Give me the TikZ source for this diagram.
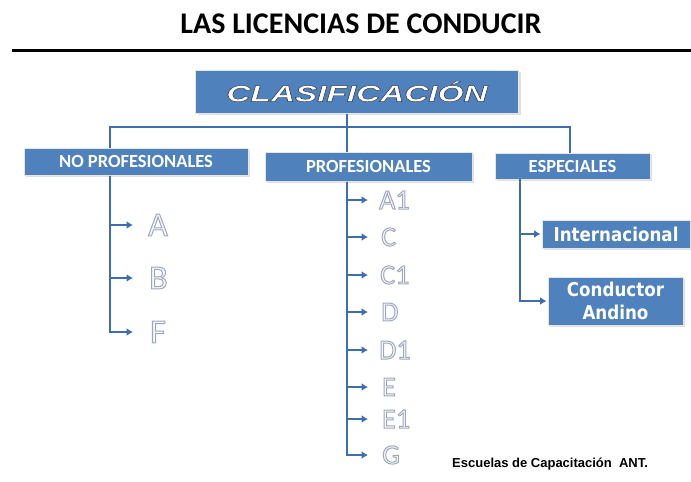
\documentclass[tikz,border=0pt]{standalone}
\usepackage{fontspec}
\usepackage{graphicx}
\setmainfont{Carlito}
\newfontfamily\arialfont{Liberation Sans}
\newfontfamily\tahomafont{DejaVu Sans}[FakeStretch=0.88]
\usetikzlibrary{arrows.meta,shadows}
\definecolor{boxblue}{RGB}{79,129,189}
\definecolor{lineblue}{RGB}{62,110,178}
\definecolor{letterfill}{RGB}{246,247,250}
% outlined letters: fill plus stroke (text render mode 2)
\newcommand{\hollow}[1]{\textcolor{letterfill}{\special{pdf:literal direct q 0.62 0.66 0.74 RG 1 w 2 Tr}#1\special{pdf:literal direct Q}}}
\newcommand{\inked}[1]{\textcolor{white}{\special{pdf:literal direct q 0.22 0.24 0.28 RG 0.45 w 2 Tr}#1\special{pdf:literal direct Q}}}

\begin{document}
\begin{tikzpicture}[
  x=1pt, y=-1pt,
  >={Latex[length=6.5pt,width=8pt]},
  every node/.style={inner sep=0pt},
  catbox/.style={rectangle, fill=boxblue, draw=white!80!gray, line width=1pt, text=white,
    font=\bfseries\fontsize{18.5}{20}\selectfont,
    drop shadow={shadow xshift=2pt, shadow yshift=-2pt, opacity=0.25}},
  leaf/.style={anchor=west, font=\fontsize{28}{30}\selectfont},
  bigleaf/.style={leaf, font=\fontsize{34}{36}\selectfont},
  link/.style={draw=lineblue, line width=2.8pt},
  linkarrow/.style={link, ->},
]
\useasboundingbox (0,0) rectangle (691,482);

% ---- heading ----
\node[font=\bfseries\fontsize{30}{32}\selectfont, anchor=base] (title) at (361,33) {LAS LICENCIAS DE CONDUCIR};
\coordinate (ruleL) at (12,50);
\coordinate (ruleR) at (691,50);
\draw[line width=3pt] (ruleL) -- (ruleR);

% ---- level 0: root ----
\node[catbox, minimum width=323pt, minimum height=43pt] (root) at (357,91.5)
  {\scalebox{1.45}[1]{\inked{\arialfont\bfseries\itshape\fontsize{23}{24}\selectfont CLASIFICACIÓN}}};

% ---- level 1 ----
\node[catbox, minimum width=224pt, minimum height=27pt] (nopro) at (136,161.5) {NO PROFESIONALES};
\node[catbox, minimum width=207pt, minimum height=29pt] (pro)   at (368.5,166.5) {PROFESIONALES};
\node[catbox, minimum width=155pt, minimum height=26pt] (espe)  at (572.5,166) {ESPECIALES};

% ---- level 2: no profesionales ----
\node[bigleaf] (lA) at (148,225) {\hollow{A}};
\node[bigleaf] (lB) at (149,278) {\hollow{B}};
\node[bigleaf] (lF) at (150,332) {\hollow{F}};

% ---- level 2: profesionales ----
\node[leaf] (lA1) at (379,200) {\hollow{A1}};
\node[leaf] (lC)  at (381,237) {\hollow{C}};
\node[leaf] (lC1) at (380,275) {\hollow{C1}};
\node[leaf] (lD)  at (381,312) {\hollow{D}};
\node[leaf] (lD1) at (379,350) {\hollow{D1}};
\node[leaf] (lE)  at (382,387) {\hollow{E}};
\node[leaf] (lE1) at (382,419) {\hollow{E1}};
\node[leaf] (lG)  at (382,455) {\hollow{G}};

% ---- level 2: especiales ----
\node[catbox, font=\tahomafont\bfseries\fontsize{19}{20}\selectfont, minimum width=148pt, minimum height=28pt] (intl) at (616,234) {Internacional};
\node[catbox, font=\tahomafont\bfseries\fontsize{19}{23}\selectfont, align=center, minimum width=135pt, minimum height=48pt] (andino) at (615.5,301) {Conductor\\Andino};

% ---- bus under the root ----
\coordinate (busL) at (110,127);
\coordinate (busM) at (347,127);
\coordinate (busR) at (570,127);
\coordinate (espTrunk) at (520,179);
\draw[link] (root.south -| busM) -- (busM);
\draw[link] (busL |- nopro.north) -- (busL) -- (busR) -- (busR |- espe.north);
\draw[link] (busM) -- (busM |- pro.north);

% ---- edges to the licence types ----
\draw[linkarrow, shorten >=15pt] (nopro.south -| busL) |- (lA.west);
\draw[linkarrow, shorten >=16pt] (nopro.south -| busL) |- (lB.west);
\draw[linkarrow, shorten >=17pt] (nopro.south -| busL) |- (lF.west);

\draw[linkarrow, shorten >=11pt] (pro.south -| busM) |- (lA1.west);
\draw[linkarrow, shorten >=13pt] (pro.south -| busM) |- (lC.west);
\draw[linkarrow, shorten >=12pt] (pro.south -| busM) |- (lC1.west);
\draw[linkarrow, shorten >=13pt] (pro.south -| busM) |- (lD.west);
\draw[linkarrow, shorten >=11pt] (pro.south -| busM) |- (lD1.west);
\draw[linkarrow, shorten >=14pt] (pro.south -| busM) |- (lE.west);
\draw[linkarrow, shorten >=14pt] (pro.south -| busM) |- (lE1.west);
\draw[linkarrow, shorten >=14pt] (pro.south -| busM) |- (lG.west);

\draw[linkarrow, shorten >=1pt] (espTrunk) |- (intl.west);
\draw[linkarrow, shorten >=1pt] (espTrunk) |- (andino.west);

% ---- credit ----
\node[font=\arialfont\bfseries\fontsize{13}{14}\selectfont, anchor=west] (credit) at (452,464) {Escuelas de Capacitación\ \ ANT.};

\end{tikzpicture}
\end{document}
